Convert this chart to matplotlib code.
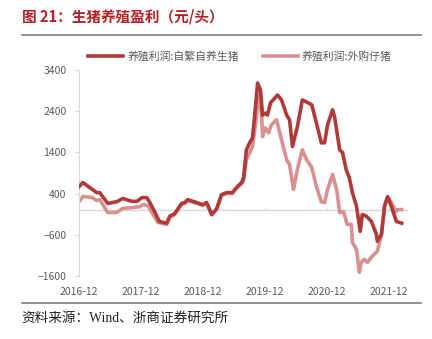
import matplotlib
matplotlib.use("Agg")
import matplotlib.pyplot as plt
import pandas as pd

plt.rcParams['font.family'] = ['Noto Sans CJK SC', 'DejaVu Sans']

# 养殖利润:自繁自养生猪
fanyang_dates = [
    "2016-12-01", "2016-12-24", "2017-03-15", "2017-04-02", "2017-05-18", "2017-07-10",
    "2017-08-16", "2017-10-07", "2017-11-07", "2017-12-06", "2018-01-04", "2018-01-22",
    "2018-02-21", "2018-03-19", "2018-05-01", "2018-05-19", "2018-06-16", "2018-07-28",
    "2018-08-15", "2018-09-01", "2018-10-25", "2018-11-28", "2018-12-22", "2019-01-21",
    "2019-02-19", "2019-03-19", "2019-04-17", "2019-05-22", "2019-06-21", "2019-07-15",
    "2019-07-27", "2019-08-13", "2019-09-01", "2019-09-18", "2019-09-30", "2019-10-18",
    "2019-11-04", "2019-11-16", "2019-12-03", "2019-12-15", "2020-01-02", "2020-02-12",
    "2020-03-07", "2020-04-06", "2020-04-23", "2020-05-10", "2020-06-08", "2020-07-07",
    "2020-08-01", "2020-09-01", "2020-09-28", "2020-10-27", "2020-11-15", "2020-12-03",
    "2021-01-01", "2021-01-13", "2021-02-12", "2021-03-01", "2021-03-22", "2021-04-10",
    "2021-04-28", "2021-05-22", "2021-06-13", "2021-06-25", "2021-07-19", "2021-08-18",
    "2021-09-16", "2021-09-22", "2021-10-16", "2021-11-03", "2021-11-21", "2021-12-13",
    "2022-01-12", "2022-02-12",
]
fanyang_values = [
    570, 665, 420, 420, 160, 200,
    280, 210, 210, 300, 300, 180,
    -60, -280, -320, -150, -90, 160,
    180, 250, 180, 130, 180, -110,
    30, 370, 420, 420, 570, 660,
    780, 1460, 1630, 1750, 2260, 3080,
    2910, 2300, 2350, 2300, 2600, 2790,
    2670, 2300, 2190, 1540, 2020, 2670,
    2620, 2550, 2110, 1630, 1630, 2070,
    2430, 2260, 1460, 1390, 980, 780,
    420, 90, -520, -110, -150, -280,
    -590, -760, -590, 90, 320, 90,
    -280, -320,
]

# 养殖利润:外购仔猪
waigou_dates = [
    "2016-12-01", "2016-12-24", "2017-02-16", "2017-03-15", "2017-04-02", "2017-05-18",
    "2017-07-10", "2017-08-16", "2017-10-13", "2017-11-24", "2017-12-12", "2018-01-10",
    "2018-02-03", "2018-03-09", "2018-05-01", "2018-05-19", "2018-06-16", "2018-07-28",
    "2018-08-15", "2018-09-01", "2018-10-25", "2018-11-28", "2018-12-22", "2019-01-21",
    "2019-02-19", "2019-03-19", "2019-04-17", "2019-05-22", "2019-06-21", "2019-07-15",
    "2019-07-27", "2019-08-13", "2019-09-01", "2019-09-18", "2019-10-12", "2019-10-18",
    "2019-11-10", "2019-11-16", "2019-12-03", "2019-12-21", "2020-01-08", "2020-02-06",
    "2020-03-07", "2020-04-06", "2020-04-23", "2020-05-16", "2020-06-08", "2020-07-07",
    "2020-08-01", "2020-09-01", "2020-09-28", "2020-10-27", "2020-11-15", "2020-12-03",
    "2021-01-01", "2021-01-25", "2021-02-12", "2021-03-07", "2021-03-28", "2021-04-22",
    "2021-04-28", "2021-05-22", "2021-06-08", "2021-06-19", "2021-07-07", "2021-07-25",
    "2021-08-23", "2021-09-22", "2021-10-16", "2021-11-03", "2021-11-21", "2021-12-13",
    "2021-12-19", "2022-01-12", "2022-01-18", "2022-02-12",
]
waigou_values = [
    200, 330, 300, 230, 250, -60,
    -60, 40, 60, 80, 130, 110,
    -60, -300, -350, -180, -110, 140,
    160, 230, 160, 110, 160, -120,
    20, 350, 400, 400, 550, 640,
    700, 1220, 1390, 1540, 2260, 2790,
    2350, 1780, 1990, 1870, 2070, 2190,
    1700, 1220, 1100, 500, 980, 1460,
    1220, 1030, 570, 200, 180, 500,
    860, 500, -60, -40, -350, -350,
    -790, -950, -1510, -1270, -1200, -1270,
    -1120, -1000, -590, 90, 320, 180,
    130, -40, 10, 10,
]

y_ticks = [-1600, -600, 400, 1400, 2400, 3400]
x_tick_labels = ["2016-12", "2017-12", "2018-12", "2019-12", "2020-12", "2021-12"]

DARK = "#b03a3a"
LIGHT = "#d8918f"
GRAY = "#595959"

fig = plt.figure(figsize=(4.32, 3.39), dpi=100)
ax = fig.add_axes([0.183, 0.186, 0.761, 0.608])

ax.plot(pd.to_datetime(fanyang_dates), fanyang_values, color=DARK, lw=2.6,
        label="养殖利润:自繁自养生猪", solid_joinstyle="round", zorder=3)
ax.plot(pd.to_datetime(waigou_dates), waigou_values, color=LIGHT, lw=2.6,
        label="养殖利润:外购仔猪", solid_joinstyle="round", zorder=2)

tick_dates = pd.to_datetime([t + "-01" for t in x_tick_labels])
ax.set_xlim(pd.Timestamp("2016-12-01"), pd.Timestamp("2022-03-20"))
ax.set_ylim(-1600, 3400)
ax.set_yticks(y_ticks)
ax.set_xticks(tick_dates)
ax.set_xticklabels(x_tick_labels)
ax.tick_params(axis="x", length=0, labelsize=7.5, labelcolor=GRAY, pad=8)
ax.tick_params(axis="y", length=3, color="#d9d9d9", labelsize=7.5, labelcolor=GRAY, pad=6)

for s in ["top", "right", "bottom"]:
    ax.spines[s].set_visible(False)
ax.spines["left"].set_color("#d9d9d9")
ax.axhline(0, color="#d9d9d9", lw=1, zorder=1)
ax.vlines(tick_dates, 0, 60, color="#d9d9d9", lw=1, zorder=1)

ax.legend(loc="lower center", bbox_to_anchor=(0.49, 0.99), ncol=2, frameon=False,
          fontsize=7.8, labelcolor=GRAY, handlelength=3.2, columnspacing=2.2,
          handletextpad=0.4)

# 标题与来源
fig.text(0.05, 0.952, "图 21：生猪养殖盈利（元/头）", fontsize=10.5, fontweight="bold",
         color="#b41f24", va="center", ha="left")
fig.add_artist(plt.Line2D([0.05, 0.975], [0.898, 0.898], color="#7f7f7f", lw=1.2))
fig.add_artist(plt.Line2D([0.05, 0.975], [0.106, 0.106], color="#7f7f7f", lw=1.2))
fig.text(0.05, 0.062, "资料来源：Wind、浙商证券研究所", fontsize=9.8, color="#222222",
         va="center", ha="left", family=["Liberation Serif", "Noto Sans CJK SC"])

fig.savefig("out.png", dpi=100)
